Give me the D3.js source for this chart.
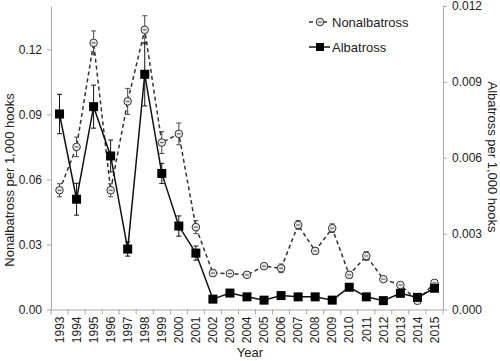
<!DOCTYPE html>
<html>
<head>
<meta charset="utf-8">
<script src="https://cdn.jsdelivr.net/npm/d3@7"></script>
<style>
body { margin: 0; background: #fff; }
svg { font-family: "Liberation Sans", Arial, sans-serif; }
.axis path, .axis line { stroke: #aaa; }
.axis text { fill: #222; font-size: 12px; }
</style>
</head>
<body>
<svg id="chart" width="500" height="361"></svg>
<script>
let years = d3.range(1993, 2016).map(String)

// nonalbatross per 1,000 hooks (left axis)
let nonalb = [0.055, 0.075, 0.123, 0.055, 0.096, 0.129, 0.077, 0.081, 0.038, 0.0168, 0.0166, 0.016,
	0.020, 0.019, 0.039, 0.027, 0.0375, 0.016, 0.0247, 0.014, 0.0113, 0.004, 0.0123]
let nonalbErr = [0.003, 0.0045, 0.0055, 0.003, 0.006, 0.0065, 0.005, 0.005, 0.003, 0.0015, 0.001, 0.001,
	0.001, 0.002, 0.002, 0.0015, 0.002, 0.0015, 0.002, 0.001, 0.001, 0.001, 0.001]

// albatross per 1,000 hooks (right axis)
let alb = [0.00773, 0.00436, 0.00802, 0.00607, 0.00239, 0.0093, 0.00538, 0.0033, 0.00223, 0.00041, 0.00065, 0.0005,
	0.00037, 0.00055, 0.0005, 0.0005, 0.00037, 0.00088, 0.0005, 0.00035, 0.00064, 0.00048, 0.00084]
let albErr = [0.00078, 0.00063, 0.00085, 0.00063, 0.00028, 0.00125, 0.0004, 0.0004, 0.00028, 0.0001, 0.0001, 0.0001,
	0.0001, 0.0001, 0.0001, 0.0001, 0.0001, 0.0001, 0.0001, 0.0001, 0.0001, 0.0001, 0.0001]

let leftTicks = [0, 0.03, 0.06, 0.09, 0.12]
let rightTicks = [0, 0.003, 0.006, 0.009, 0.012]

let svg = d3.select('#chart')
let padL = 51, padR = 443, padT = 6, padB = 309.5

let x = d3.scaleBand().domain(years).range([padL, padR])
let yL = d3.scaleLinear().domain([0, 0.14]).range([padB, padT])
let yR = d3.scaleLinear().domain([0, 0.012]).range([padB, padT])
let cx = d => x(d) + x.bandwidth() / 2

// axes
svg.append('g')
	.attr('class', 'axis')
	.attr('transform', `translate(${padL},0)`)
	.call(d3.axisLeft(yL).tickValues(leftTicks).tickFormat(d3.format('.2f')).tickSize(4).tickPadding(5).tickSizeOuter(0))

svg.append('g')
	.attr('class', 'axis')
	.attr('transform', `translate(${padR},0)`)
	.call(d3.axisRight(yR).tickValues(rightTicks).tickFormat(d3.format('.3f')).tickSize(4).tickPadding(5).tickSizeOuter(0))

let xAxis = svg.append('g')
	.attr('class', 'axis')
	.attr('transform', `translate(0,${padB})`)
	.call(d3.axisBottom(x).tickSize(0).tickPadding(0))
xAxis.selectAll('text')
	.attr('transform', 'rotate(-90)')
	.attr('text-anchor', 'end')
	.attr('dy', '0.35em')
	.attr('x', -7)
	.attr('y', 0)
// boundary ticks between years
xAxis.selectAll('.bound')
	.data(years.concat(['end']))
	.enter()
	.append('line')
	.attr('class', 'bound')
	.attr('x1', (d, i) => padL + i * x.bandwidth())
	.attr('x2', (d, i) => padL + i * x.bandwidth())
	.attr('y1', 0)
	.attr('y2', 5)
	.attr('stroke', '#aaa')

// titles
svg.append('text')
	.text('Year')
	.attr('x', 250)
	.attr('y', 357)
	.attr('text-anchor', 'middle')
	.attr('font-size', 13)
	.attr('fill', '#222')

svg.append('text')
	.text('Nonalbatross per 1,000 hooks')
	.attr('transform', 'translate(14,180) rotate(-90)')
	.attr('text-anchor', 'middle')
	.attr('font-size', 13)
	.attr('fill', '#222')

svg.append('text')
	.text('Albatross per 1,000 hooks')
	.attr('transform', 'translate(488,157) rotate(90)')
	.attr('text-anchor', 'middle')
	.attr('font-size', 13)
	.attr('fill', '#222')

let nonData = years.map((y, i) => ({ year: y, v: nonalb[i], e: nonalbErr[i] }))
let albData = years.map((y, i) => ({ year: y, v: alb[i], e: albErr[i] }))

// error bars
let drawErr = (data, scale, color) => {
	let g = svg.append('g')
	g.selectAll('line.err')
		.data(data)
		.enter()
		.append('line')
		.attr('x1', d => cx(d.year))
		.attr('x2', d => cx(d.year))
		.attr('y1', d => scale(d.v - d.e))
		.attr('y2', d => scale(d.v + d.e))
		.attr('stroke', color)
		.attr('stroke-width', 1)
	;[-1, 1].forEach(s => {
		g.selectAll(null)
			.data(data)
			.enter()
			.append('line')
			.attr('x1', d => cx(d.year) - 2.5)
			.attr('x2', d => cx(d.year) + 2.5)
			.attr('y1', d => scale(d.v + s * d.e))
			.attr('y2', d => scale(d.v + s * d.e))
			.attr('stroke', color)
			.attr('stroke-width', 1)
	})
}

drawErr(nonData, yL, '#444')
drawErr(albData, yR, '#111')

// lines
let lineL = d3.line().x(d => cx(d.year)).y(d => yL(d.v))
let lineR = d3.line().x(d => cx(d.year)).y(d => yR(d.v))

svg.append('path')
	.datum(nonData)
	.attr('d', lineL)
	.attr('fill', 'none')
	.attr('stroke', '#333')
	.attr('stroke-width', 1.5)
	.attr('stroke-dasharray', '4,3')

svg.append('path')
	.datum(albData)
	.attr('d', lineR)
	.attr('fill', 'none')
	.attr('stroke', '#111')
	.attr('stroke-width', 1.5)

// markers
let circleMark = (sel) => {
	sel.append('circle')
		.attr('r', 3.8)
		.attr('fill', '#e8e8e8')
		.attr('stroke', '#333')
		.attr('stroke-width', 1)
	sel.append('line')
		.attr('x1', -2).attr('x2', 2)
		.attr('y1', 0).attr('y2', 0)
		.attr('stroke', '#555')
		.attr('stroke-width', 1)
}

let nonG = svg.selectAll('.non-pt')
	.data(nonData)
	.enter()
	.append('g')
	.attr('class', 'non-pt')
	.attr('transform', d => `translate(${cx(d.year)},${yL(d.v)})`)
circleMark(nonG)

svg.selectAll('.alb-pt')
	.data(albData)
	.enter()
	.append('rect')
	.attr('class', 'alb-pt')
	.attr('x', d => cx(d.year) - 4.5)
	.attr('y', d => yR(d.v) - 4.5)
	.attr('width', 9)
	.attr('height', 9)
	.attr('fill', '#000')

// legend
let leg = svg.append('g').attr('transform', 'translate(309,22)')
leg.append('line')
	.attr('x1', 0).attr('x2', 21).attr('y1', 0).attr('y2', 0)
	.attr('stroke', '#333').attr('stroke-width', 1.5).attr('stroke-dasharray', '4,3')
circleMark(leg.append('g').attr('transform', 'translate(11,0)'))
leg.append('text')
	.text('Nonalbatross')
	.attr('x', 23).attr('y', 5)
	.attr('font-size', 13).attr('fill', '#222')

leg.append('line')
	.attr('x1', 0).attr('x2', 21).attr('y1', 25).attr('y2', 25)
	.attr('stroke', '#111').attr('stroke-width', 1.5)
leg.append('rect')
	.attr('x', 7).attr('y', 21).attr('width', 8).attr('height', 8)
	.attr('fill', '#000')
leg.append('text')
	.text('Albatross')
	.attr('x', 23).attr('y', 30)
	.attr('font-size', 13).attr('fill', '#222')
</script>
</body>
</html>
